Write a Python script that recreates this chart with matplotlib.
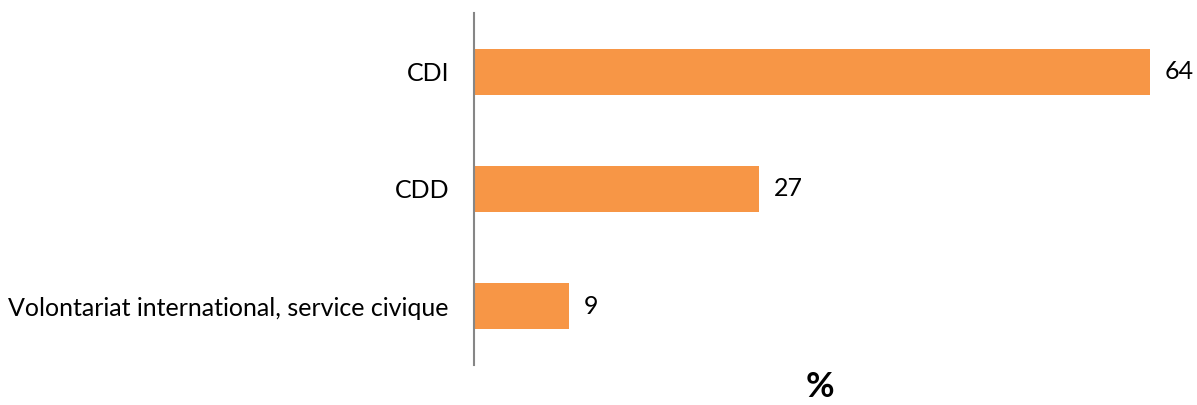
import matplotlib
matplotlib.use('Agg')
import matplotlib.pyplot as plt

# Data
categories = ["CDI", "CDD", "Volontariat international, service civique"]
values = [64, 27, 9]

plt.rcParams['font.family'] = ['Lato', 'DejaVu Sans']

fig = plt.figure(figsize=(11.97, 4.05), dpi=100)
ax = fig.add_axes([474 / 1197, 40 / 405, (1166 - 474) / 1197, (392 - 40) / 405])

ypos = list(range(len(categories)))
ax.barh(ypos, values, height=0.39, color='#F79646')
for y, v in zip(ypos, values):
    ax.text(v + 1.4, y, f"{v}", va='center', ha='left', fontsize=18, color='black')

ax.set_yticks(ypos)
ax.set_yticklabels(categories, fontsize=18)
ax.set_ylim(2.5, -0.5)
ax.set_xlim(0, 65.5)
ax.set_xticks([])
ax.tick_params(axis='y', length=0, pad=18)

for s in ['top', 'right', 'bottom']:
    ax.spines[s].set_visible(False)
ax.spines['left'].set_color('#868686')
ax.spines['left'].set_linewidth(1.5)

ax.set_xlabel("%", fontsize=25, fontweight='bold', labelpad=4)

plt.savefig("out.png", dpi=100)
